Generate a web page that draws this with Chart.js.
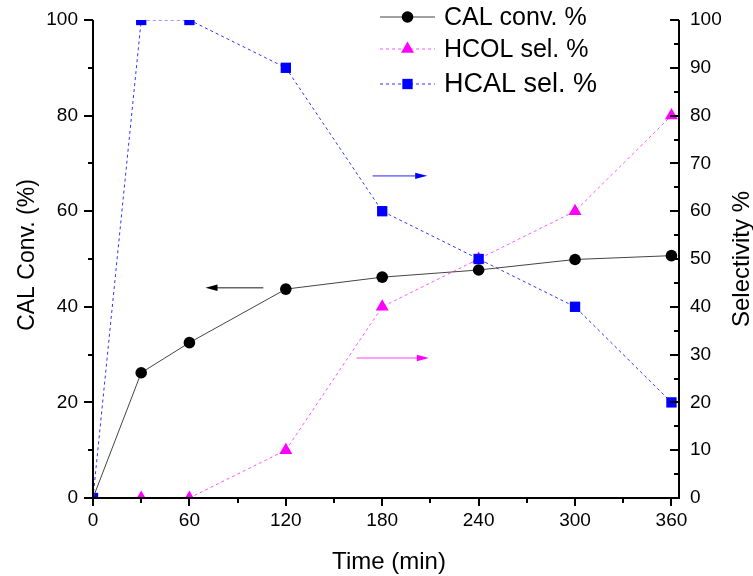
<!DOCTYPE html>
<html>
<head>
<meta charset="utf-8">
<script src="https://cdn.jsdelivr.net/npm/chart.js@4.4.1/dist/chart.umd.min.js"></script>
<style>
  html, body { margin: 0; padding: 0; background: #fff; }
  #chart { display: block; }
</style>
</head>
<body>
<canvas id="chart" width="753" height="576"></canvas>
<script>
// Tiempo de reacción (min)
const tiempos = [0, 30, 60, 120, 180, 240, 300, 360];
// Conversión de CAL (%) -> eje izquierdo
const conversionCAL = [0, 26.2, 32.5, 43.7, 46.2, 47.7, 49.9, 50.7];
// Selectividades (%) -> eje derecho
const selectividadHCOL = [0, 0, 0, 10, 40, 50, 60, 80];
const selectividadHCAL = [0, 100, 100, 90, 60, 50, 40, 20];

const etiquetas = ["CAL conv. %", "HCOL sel. %", "HCAL sel. %"];

// Marcas de los ejes
const ticksX = [0, 60, 120, 180, 240, 300, 360];
const ticksXMenores = [30, 90, 150, 210, 270, 330];
const ticksIzq = [0, 20, 40, 60, 80, 100];
const ticksIzqMenores = [10, 30, 50, 70, 90];
const ticksDer = [0, 10, 20, 30, 40, 50, 60, 70, 80, 90, 100];
const ticksDerMenores = [5, 15, 25, 35, 45, 55, 65, 75, 85, 95];

// Flechas que indican a qué eje pertenece cada serie (coordenadas de datos)
const flechas = [
  { eje: "yIzq", desde: [106, 44], hasta: [70, 44], linea: "#666666", punta: "#000000" },
  { eje: "yDer", desde: [174, 67.4], hasta: [208, 67.4], linea: "#8080ff", punta: "#0000ff" },
  { eje: "yDer", desde: [164, 29.3], hasta: [209, 29.3], linea: "#ff80ff", punta: "#ff00ff" }
];

const FUENTE = "'Liberation Sans', Arial, sans-serif";

function fijarTicks(valores) {
  return scale => { scale.ticks = valores.map(v => ({ value: v })); };
}

// tamaño fijo de cada eje, sin el relleno extra que añade Chart.js por las etiquetas
function fijarTamano(ancho, alto) {
  return s => {
    if (ancho) s.width = ancho;
    if (alto) s.height = alto;
    s.paddingTop = 0;
    s.paddingBottom = 0;
    s.paddingLeft = 0;
    s.paddingRight = 0;
  };
}

// Ejes, marcas, títulos, leyenda y flechas dibujados a mano
const marco = {
  id: "marco",
  afterDraw(chart) {
    const { ctx, chartArea: a, scales } = chart;
    const x = scales.x, yI = scales.yIzq, yD = scales.yDer;
    ctx.save();

    ctx.strokeStyle = "#000";
    ctx.lineWidth = 2;
    ctx.beginPath();
    ctx.moveTo(a.left, a.top);
    ctx.lineTo(a.left, a.bottom);
    ctx.lineTo(a.right, a.bottom);
    ctx.lineTo(a.right, a.top);
    ctx.stroke();

    const marcas = (valores, escala, largo, fn) => {
      valores.forEach(v => {
        const p = Math.round(escala.getPixelForValue(v));
        ctx.beginPath();
        fn(p, largo);
        ctx.stroke();
      });
    };
    const enX = (p, l) => { ctx.moveTo(p, a.bottom); ctx.lineTo(p, a.bottom + l); };
    const enIzq = (p, l) => { ctx.moveTo(a.left - l, p); ctx.lineTo(a.left, p); };
    const enDer = (p, l) => { ctx.moveTo(a.right - l, p); ctx.lineTo(a.right, p); };
    marcas(ticksX, x, 8, enX);
    marcas(ticksXMenores, x, 5, enX);
    marcas(ticksIzq, yI, 9, enIzq);
    marcas(ticksIzqMenores, yI, 5, enIzq);
    marcas(ticksDer, yD, 9, enDer);
    marcas(ticksDerMenores, yD, 5, enDer);

    // títulos de los ejes
    ctx.fillStyle = "#000";
    ctx.textBaseline = "alphabetic";
    ctx.textAlign = "center";
    ctx.font = "24px " + FUENTE;
    ctx.fillText("Time (min)", (a.left + a.right) / 2 + 3, 569);
    ctx.save();
    ctx.translate(33.5, 255);
    ctx.rotate(-Math.PI / 2);
    ctx.font = "23px " + FUENTE;
    ctx.fillText("CAL Conv. (%)", 0, 0);
    ctx.restore();
    ctx.save();
    ctx.translate(749, 259);
    ctx.rotate(-Math.PI / 2);
    ctx.font = "24px " + FUENTE;
    ctx.fillText("Selectivity %", 0, 0);
    ctx.restore();

    // flechas
    flechas.forEach(f => {
      const y = chart.scales[f.eje];
      const x0 = x.getPixelForValue(f.desde[0]), y0 = y.getPixelForValue(f.desde[1]);
      const x1 = x.getPixelForValue(f.hasta[0]), y1 = y.getPixelForValue(f.hasta[1]);
      const dir = Math.sign(x1 - x0);
      ctx.strokeStyle = f.linea;
      ctx.lineWidth = 1.6;
      ctx.beginPath();
      ctx.moveTo(x0, y0);
      ctx.lineTo(x1 - dir * 10, y1);
      ctx.stroke();
      ctx.fillStyle = f.punta;
      ctx.beginPath();
      ctx.moveTo(x1, y1);
      ctx.lineTo(x1 - dir * 12, y1 - 3.2);
      ctx.lineTo(x1 - dir * 12, y1 + 3.2);
      ctx.closePath();
      ctx.fill();
    });

    // leyenda
    const filas = [17, 49, 84];
    const tamanos = [25, 25, 27];
    chart.data.datasets.forEach((ds, i) => {
      const yf = filas[i];
      ctx.strokeStyle = ds.borderColor;
      ctx.lineWidth = ds.borderWidth;
      ctx.setLineDash(ds.borderDash || []);
      ctx.beginPath();
      ctx.moveTo(380, yf);
      ctx.lineTo(435, yf);
      ctx.stroke();
      ctx.setLineDash([]);
      ctx.fillStyle = ds.pointBackgroundColor;
      Chart.helpers.drawPoint(ctx, {
        pointStyle: ds.pointStyle, radius: ds.leyendaRadio, rotation: 0, borderWidth: 0
      }, 407.5, yf);
      ctx.fillStyle = "#000";
      ctx.textAlign = "left";
      ctx.textBaseline = "middle";
      ctx.font = tamanos[i] + "px " + FUENTE;
      ctx.fillText(ds.label, 444, yf + 1);
    });

    ctx.restore();
  }
};

const ctx = document.getElementById("chart").getContext("2d");

new Chart(ctx, {
  type: "line",
  data: {
    datasets: [
      {
        label: etiquetas[0],
        data: tiempos.map((t, i) => ({ x: t, y: conversionCAL[i] })),
        yAxisID: "yIzq",
        order: 0,
        borderColor: "#444444",
        borderWidth: 1,
        pointStyle: "circle",
        pointRadius: c => (c.dataIndex === 0 ? 0 : 5.8),
        leyendaRadio: 5.8,
        pointBackgroundColor: "#000000",
        pointBorderWidth: 0
      },
      {
        label: etiquetas[1],
        data: tiempos.map((t, i) => ({ x: t, y: selectividadHCOL[i] })),
        yAxisID: "yDer",
        order: 2,
        borderColor: "#ff55ff",
        borderWidth: 1,
        borderDash: [3, 3],
        pointStyle: "triangle",
        pointRadius: c => (c.dataIndex === 0 ? 0 : 7.5),
        leyendaRadio: 7.5,
        pointBackgroundColor: "#ff00ff",
        pointBorderWidth: 0
      },
      {
        label: etiquetas[2],
        data: tiempos.map((t, i) => ({ x: t, y: selectividadHCAL[i] })),
        yAxisID: "yDer",
        order: 1,
        borderColor: "#3333ff",
        borderWidth: 1,
        borderDash: [3, 3],
        pointStyle: "rect",
        pointRadius: 7.3,
        leyendaRadio: 7.3,
        pointBackgroundColor: "#0000ff",
        pointBorderWidth: 0
      }
    ]
  },
  options: {
    responsive: false,
    animation: false,
    devicePixelRatio: 1,
    layout: { padding: { top: 20, left: 0, right: 0, bottom: 0 } },
    plugins: { legend: { display: false }, tooltip: { enabled: false } },
    elements: { line: { tension: 0 } },
    scales: {
      x: {
        type: "linear",
        min: 0,
        max: 364.7,
        grid: { display: false },
        border: { display: false },
        afterBuildTicks: fijarTicks(ticksX),
        afterFit: fijarTamano(0, 78),
        ticks: {
          autoSkip: false,
          maxRotation: 0,
          padding: 3,
          color: "#000",
          font: { family: FUENTE, size: 19 }
        }
      },
      yIzq: {
        type: "linear",
        position: "left",
        min: 0,
        max: 100,
        grid: { display: false },
        border: { display: false },
        afterBuildTicks: fijarTicks(ticksIzq),
        afterFit: fijarTamano(93, 0),
        ticks: { padding: 7, color: "#000", font: { family: FUENTE, size: 19 } }
      },
      yDer: {
        type: "linear",
        position: "right",
        min: 0,
        max: 100,
        grid: { display: false },
        border: { display: false },
        afterBuildTicks: fijarTicks(ticksDer),
        afterFit: fijarTamano(74, 0),
        ticks: { padding: 3, color: "#000", font: { family: FUENTE, size: 19 } }
      }
    }
  },
  plugins: [marco]
});
</script>
</body>
</html>
